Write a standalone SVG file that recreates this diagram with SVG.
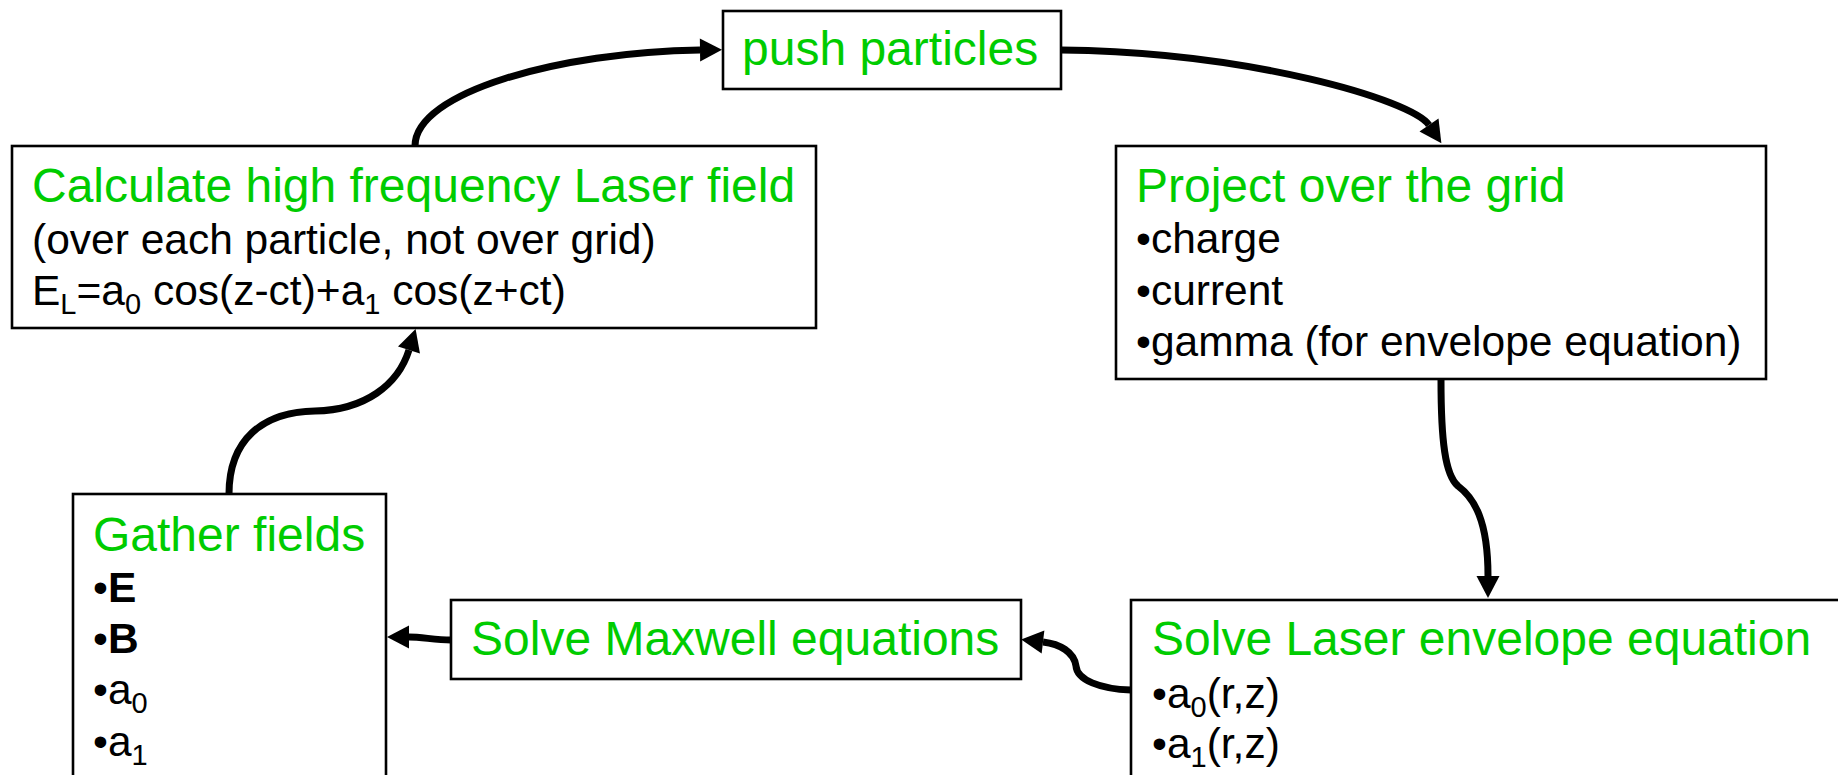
<svg xmlns="http://www.w3.org/2000/svg" width="1838" height="775" viewBox="0 0 1838 775">
<style>
.box{fill:#fff;stroke:#000;stroke-width:2.6}
.t{font-family:"Liberation Sans",Arial,sans-serif}
.g{fill:#00cc00;font-size:48px}
.k{fill:#000;font-size:42.5px}
.sub{font-size:29px}
.b{font-weight:bold}
.con{fill:none;stroke:#000;stroke-width:7;marker-end:url(#ah)}
</style>
<defs>
<marker id="ah" markerUnits="userSpaceOnUse" markerWidth="24" markerHeight="24" viewBox="0 -12 24 24" refX="0" refY="0" orient="auto" overflow="visible">
<path d="M0,-11.5 L22,0 L0,11.5 z" fill="#000"/>
</marker>
</defs>
<rect width="1838" height="775" fill="#fff"/>

<g id="connectors">
<path class="con" d="M415,146 C415,92 560,52 700,50"/>
<path class="con" d="M1061,50 C1250,52 1412,100 1429,125"/>
<path class="con" d="M1441,380 C1441,440 1445,475 1458,486 C1474,498 1488,520 1488,576"/>
<path class="con" d="M1131,690 C1100,689 1077,680 1076,666 C1074,652 1060,644 1043,642"/>
<path class="con" d="M451,640 C435,640 422,637 409,637"/>
<path class="con" d="M229,494 C229,440 262,412 315,411 C365,410 398,385 409,350"/>
</g>

<g id="push">
<rect class="box" x="723" y="11" width="338" height="78"/>
<text class="t g" x="742" y="65">push particles</text>
</g>

<g id="calculate">
<rect class="box" x="12" y="146" width="804" height="182"/>
<text class="t g" x="32" y="202">Calculate high frequency Laser field</text>
<text class="t k" x="32" y="254">(over each particle, not over grid)</text>
<text class="t k" x="32" y="305">E<tspan class="sub" dy="9">L</tspan><tspan dy="-9">=a</tspan><tspan class="sub" dy="9">0</tspan><tspan dy="-9"> cos(z-ct)+a</tspan><tspan class="sub" dy="9">1</tspan><tspan dy="-9"> cos(z+ct)</tspan></text>
</g>

<g id="project">
<rect class="box" x="1116" y="146" width="650" height="233"/>
<text class="t g" x="1136" y="202">Project over the grid</text>
<text class="t k" x="1136" y="253">•charge</text>
<text class="t k" x="1136" y="305">•current</text>
<text class="t k" x="1136" y="356">•gamma (for envelope equation)</text>
</g>

<g id="laser">
<rect class="box" x="1131" y="600" width="760" height="220"/>
<text class="t g" x="1152" y="655">Solve Laser envelope equation</text>
<text class="t k" x="1152" y="708">•a<tspan class="sub" dy="9">0</tspan><tspan dy="-9">(r,z)</tspan></text>
<text class="t k" x="1152" y="758">•a<tspan class="sub" dy="9">1</tspan><tspan dy="-9">(r,z)</tspan></text>
</g>

<g id="maxwell">
<rect class="box" x="451" y="600" width="570" height="79"/>
<text class="t g" x="471" y="655">Solve Maxwell equations</text>
</g>

<g id="gather">
<rect class="box" x="73" y="494" width="313" height="330"/>
<text class="t g" x="93" y="551">Gather fields</text>
<text class="t k" x="93" y="602">•<tspan class="b">E</tspan></text>
<text class="t k" x="93" y="653">•<tspan class="b">B</tspan></text>
<text class="t k" x="93" y="704">•a<tspan class="sub" dy="9">0</tspan></text>
<text class="t k" x="93" y="756">•a<tspan class="sub" dy="9">1</tspan></text>
</g>
</svg>
